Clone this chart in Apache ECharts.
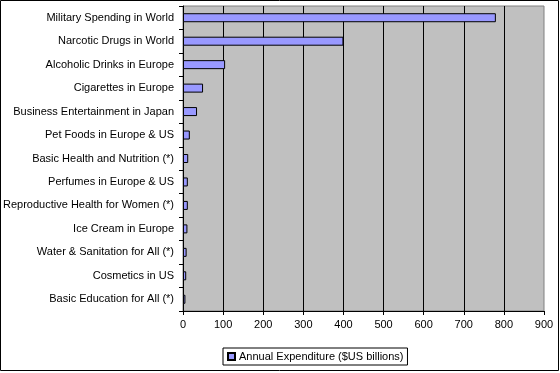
<!DOCTYPE html>
<html>
<head>
<meta charset="utf-8">
<script src="https://cdn.jsdelivr.net/npm/echarts@6/dist/echarts.min.js"></script>
<style>
html,body{margin:0;padding:0;background:#fff;}
#c{width:560px;height:373px;}
</style>
</head>
<body>
<div id="c"></div>
<script>
const categories = [
  'Military Spending in World',
  'Narcotic Drugs in World',
  'Alcoholic Drinks in Europe',
  'Cigarettes in Europe',
  'Business Entertainment in Japan',
  'Pet Foods in Europe & US',
  'Basic Health and Nutrition (*)',
  'Perfumes in Europe & US',
  'Reproductive Health for Women (*)',
  'Ice Cream in Europe',
  'Water & Sanitation for All (*)',
  'Cosmetics in US',
  'Basic Education for All (*)'
];
const expenditure = [780, 400, 105, 50, 35, 17, 13, 12, 12, 11, 9, 8, 6];
const seriesName = 'Annual Expenditure ($US billions)';

const chart = echarts.init(document.getElementById('c'), null, {renderer: 'canvas'});
const font = 'Liberation Sans, Arial, sans-serif';
chart.setOption({
  animation: false,
  backgroundColor: '#fff',
  textStyle: {fontFamily: font},
  graphic: [{
    type: 'rect',
    shape: {x: 0.5, y: 0.5, width: 558, height: 370},
    style: {fill: 'none', stroke: '#000', lineWidth: 1},
    silent: true
  }],
  grid: {
    left: 183, top: 6, width: 361, height: 305,
    show: true, backgroundColor: '#C0C0C0', borderColor: '#808080', borderWidth: 1,
    containLabel: false
  },
  xAxis: {
    type: 'value', min: 0, max: 900, interval: 100,
    axisLine: {show: true, lineStyle: {color: '#000', width: 1}},
    axisTick: {show: true, length: 4, lineStyle: {color: '#000'}},
    axisLabel: {color: '#000', fontSize: 11, fontFamily: font, margin: 8},
    splitLine: {show: true, showMinLine: false, showMaxLine: false, lineStyle: {color: '#000', width: 1}}
  },
  yAxis: {
    type: 'category', data: categories, inverse: true,
    axisLine: {show: true, lineStyle: {color: '#000', width: 1}},
    axisTick: {show: true, length: 4, lineStyle: {color: '#000'}},
    axisLabel: {color: '#000', fontSize: 11, fontFamily: font, margin: 9},
    splitLine: {show: false}
  },
  legend: {
    show: true,
    left: 223, top: 348,
    orient: 'horizontal',
    backgroundColor: '#fff',
    borderColor: '#000', borderWidth: 1, borderRadius: 0,
    padding: [3, 4, 3, 4],
    itemWidth: 7, itemHeight: 7, itemGap: 4,
    icon: 'rect',
    textStyle: {color: '#000', fontSize: 11, fontFamily: font, padding: [0, 0, 0, -1]},
    data: [seriesName]
  },
  series: [{
    name: seriesName,
    type: 'bar',
    data: expenditure,
    barWidth: 9,
    itemStyle: {color: '#9999FF', borderColor: '#000', borderWidth: 1}
  }]
});
</script>
</body>
</html>
